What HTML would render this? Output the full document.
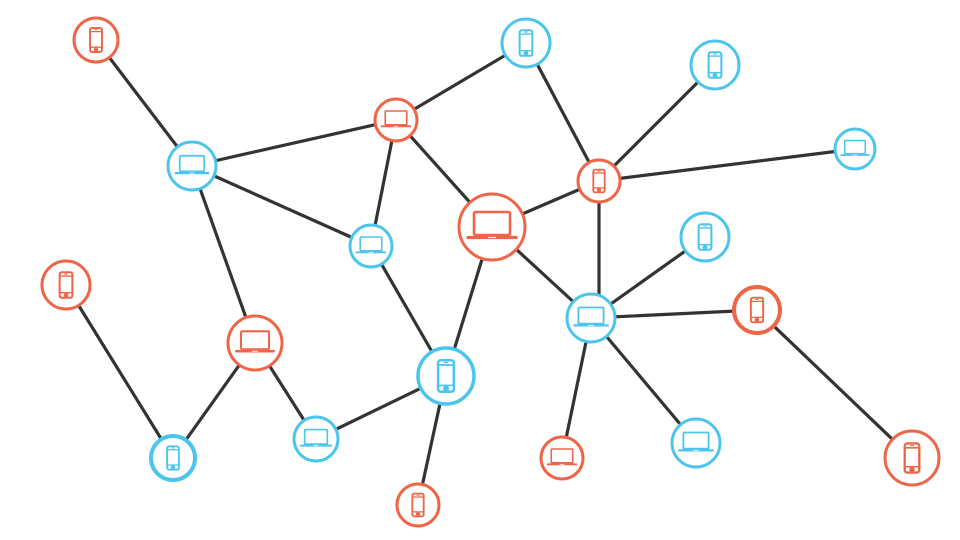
<!DOCTYPE html>
<html><head><meta charset="utf-8"><style>body{margin:0;background:#fff}svg{display:block}</style></head><body>
<svg width="960" height="540" viewBox="0 0 960 540" xmlns="http://www.w3.org/2000/svg">
<defs>
<g id="lap"><rect x="-18" y="-15" width="36" height="23" rx="1.5" fill="none" stroke="currentColor" stroke-width="2.6"/><path d="M-24 10.5H24" stroke="currentColor" stroke-width="3.2" stroke-linecap="round"/><path d="M-4 10.5H4" stroke="#fff" stroke-width="1.2"/></g>
<g id="ph"><rect x="-7.5" y="-15" width="15" height="30" rx="2.5" fill="none" stroke="currentColor" stroke-width="2.4"/><path d="M-7 -10.5H7M-7 9H7" stroke="currentColor" stroke-width="1.6"/><path d="M-2 -12.8H2" stroke="currentColor" stroke-width="1.2"/><circle cx="0" cy="12" r="1.3" fill="currentColor"/></g>
</defs>
<g stroke="#333" stroke-width="3.2" stroke-linecap="round">
<line x1="96" y1="40" x2="192" y2="166"/><line x1="192" y1="166" x2="396" y2="120"/><line x1="192" y1="166" x2="371" y2="246"/><line x1="192" y1="166" x2="255" y2="343"/>
<line x1="396" y1="120" x2="526" y2="43"/><line x1="396" y1="120" x2="371" y2="246"/><line x1="396" y1="120" x2="492" y2="227"/>
<line x1="526" y1="43" x2="599" y2="181"/><line x1="715" y1="65" x2="599" y2="181"/><line x1="855" y1="149" x2="599" y2="181"/>
<line x1="599" y1="181" x2="492" y2="227"/><line x1="599" y1="181" x2="599" y2="300"/><line x1="492" y1="227" x2="591" y2="318"/><line x1="492" y1="227" x2="446" y2="376"/>
<line x1="371" y1="246" x2="446" y2="376"/><line x1="66" y1="285" x2="173" y2="458"/><line x1="255" y1="343" x2="173" y2="458"/><line x1="255" y1="343" x2="316" y2="439"/>
<line x1="316" y1="439" x2="446" y2="376"/><line x1="446" y1="376" x2="418" y2="505"/><line x1="705" y1="237" x2="591" y2="318"/><line x1="591" y1="318" x2="757" y2="310"/>
<line x1="757" y1="310" x2="912" y2="458"/><line x1="591" y1="318" x2="562" y2="458"/><line x1="591" y1="318" x2="696" y2="443"/>
</g>
<g fill="#fff" stroke-width="3">
<g color="#ef6548" stroke="#ef6548">
<circle cx="96" cy="40" r="22"/><use href="#ph" transform="translate(96,40) scale(0.8)"/>
<circle cx="396" cy="120" r="21"/><use href="#lap" transform="translate(396,120) scale(0.6)"/>
<circle cx="599" cy="181" r="21"/><use href="#ph" transform="translate(599,181) scale(0.76)"/>
<circle cx="492" cy="227" r="33"/><use href="#lap" transform="translate(492,227)"/>
<circle cx="66" cy="285" r="24"/><use href="#ph" transform="translate(66,285) scale(0.85)"/>
<circle cx="255" cy="343" r="27"/><use href="#lap" transform="translate(255,343) scale(0.78)"/>
<circle cx="757" cy="310" r="23" stroke-width="4"/><use href="#ph" transform="translate(757,310) scale(0.82)"/>
<circle cx="562" cy="458" r="21"/><use href="#lap" transform="translate(562,458) scale(0.6)"/>
<circle cx="912" cy="458" r="27"/><use href="#ph" transform="translate(912,458) scale(0.97)"/>
<circle cx="418" cy="505" r="21"/><use href="#ph" transform="translate(418,505) scale(0.76)"/>
</g>
<g color="#4bc5ec" stroke="#4bc5ec">
<circle cx="192" cy="166" r="24"/><use href="#lap" transform="translate(192,166) scale(0.68)"/>
<circle cx="526" cy="43" r="24"/><use href="#ph" transform="translate(526,43) scale(0.85)"/>
<circle cx="715" cy="65" r="24"/><use href="#ph" transform="translate(715,65) scale(0.85)"/>
<circle cx="855" cy="149" r="20"/><use href="#lap" transform="translate(855,149) scale(0.57)"/>
<circle cx="371" cy="246" r="21"/><use href="#lap" transform="translate(371,246) scale(0.6)"/>
<circle cx="705" cy="237" r="24"/><use href="#ph" transform="translate(705,237) scale(0.85)"/>
<circle cx="591" cy="318" r="24"/><use href="#lap" transform="translate(591,318) scale(0.7)"/>
<circle cx="446" cy="376" r="28" stroke-width="3.5"/><use href="#ph" transform="translate(446,376) scale(1.05)"/>
<circle cx="173" cy="458" r="22" stroke-width="4"/><use href="#ph" transform="translate(173,458) scale(0.78)"/>
<circle cx="316" cy="439" r="22"/><use href="#lap" transform="translate(316,439) scale(0.63)"/>
<circle cx="696" cy="443" r="24"/><use href="#lap" transform="translate(696,443) scale(0.7)"/>
</g>
</g>
</svg>
</body></html>
